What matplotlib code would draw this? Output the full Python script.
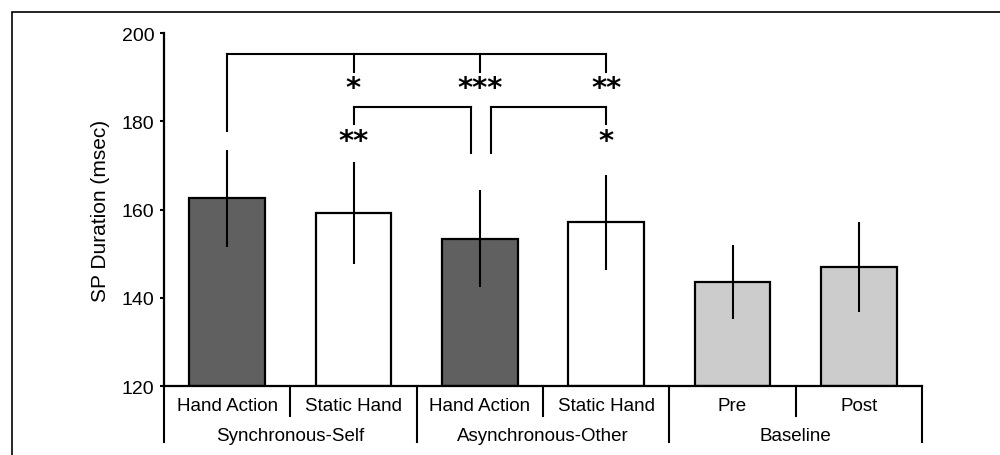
"""
SP duration by condition, bar chart with significance brackets.
"""
import matplotlib
matplotlib.use("Agg")
import matplotlib.pyplot as plt
from matplotlib.patches import Rectangle

# --- Data ---
conditions = ["Hand Action", "Static Hand", "Hand Action", "Static Hand", "Pre", "Post"]
groups = ["Synchronous-Self", "Asynchronous-Other", "Baseline"]
means = [162.6, 159.3, 153.4, 157.1, 143.6, 147.0]
errors = [11.0, 11.5, 11.0, 10.8, 8.4, 10.2]
colors = ["#606060", "#ffffff", "#606060", "#ffffff", "#cccccc", "#cccccc"]

# brackets: (x points, leg bottoms, bar height)
brackets = [
    ([0, 1, 2, 3], [177.9, 191.3, 191.3, 191.3], 195.3),
    ([1, 1.93], [179.4, 172.8], 183.2),
    ([2.09, 3], [172.8, 179.4], 183.2),
]
stars = [(1, 188.9, "*"), (2, 188.9, "***"), (3, 188.9, "**"),
         (1, 176.8, "**"), (3, 176.8, "*")]

plt.rcParams["font.family"] = ["Liberation Sans", "DejaVu Sans"]

fig = plt.figure(figsize=(10, 4.56), dpi=100)
ax = fig.add_axes([0.164, 0.1507, 0.758, 0.7745])

x = list(range(len(means)))
ax.bar(x, [m - 120 for m in means], bottom=120, width=0.6, color=colors,
       edgecolor="k", linewidth=1.6, zorder=2)
ax.errorbar(x, means, yerr=errors, fmt="none", ecolor="k", elinewidth=1.5,
            capsize=0, zorder=3)

# --- Brackets ---
for xs, legs, top in brackets:
    ax.plot([xs[0], xs[-1]], [top, top], color="k", lw=1.5, solid_capstyle="projecting")
    for xi, lo in zip(xs, legs):
        ax.plot([xi, xi], [lo, top], color="k", lw=1.5)

fs_star = 21
for xi, yi, s in stars:
    ax.annotate(s, xy=(xi, yi), xytext=(0, -0.46 * fs_star), textcoords="offset points",
                ha="center", va="baseline", fontsize=fs_star, family="DejaVu Sans",
                fontweight="bold")

# --- Axes ---
ax.set_xlim(-0.5, 5.5)
ax.set_ylim(120, 200)
ax.set_yticks([120, 140, 160, 180, 200])
ax.tick_params(axis="y", direction="out", length=3, width=1.5, pad=4, labelsize=14)
ax.set_xticks([])
ax.spines["top"].set_visible(False)
ax.spines["right"].set_visible(False)
for sp in ["left", "bottom"]:
    ax.spines[sp].set_linewidth(1.6)
ax.set_ylabel("SP Duration (msec)", fontsize=15)
ax.yaxis.set_label_coords(-0.071, 0.5)

# --- Two-level x labels ---
tr = ax.get_xaxis_transform()
for xi, lab in zip(x, conditions):
    ax.text(xi, -0.055, lab, transform=tr, ha="center", va="center", fontsize=13.5)
for i in range(1, len(conditions)):
    if i % 2 == 1:
        ax.plot([i - 0.5, i - 0.5], [0, -0.084], transform=tr, color="k", lw=1.5, clip_on=False)
for g, lab in enumerate(groups):
    ax.text(2 * g + 0.5, -0.140, lab, transform=tr, ha="center", va="center", fontsize=13.5)
for b in [-0.5, 1.5, 3.5, 5.5]:
    ax.plot([b, b], [0, -0.158], transform=tr, color="k", lw=1.5, clip_on=False)

# outer frame
fig.patches.append(Rectangle((0.012, -1), 2, 1 - 12.5 / 456 + 1, transform=fig.transFigure,
                             fill=False, lw=1.2, edgecolor="k"))

fig.savefig("out.png", dpi=100)
